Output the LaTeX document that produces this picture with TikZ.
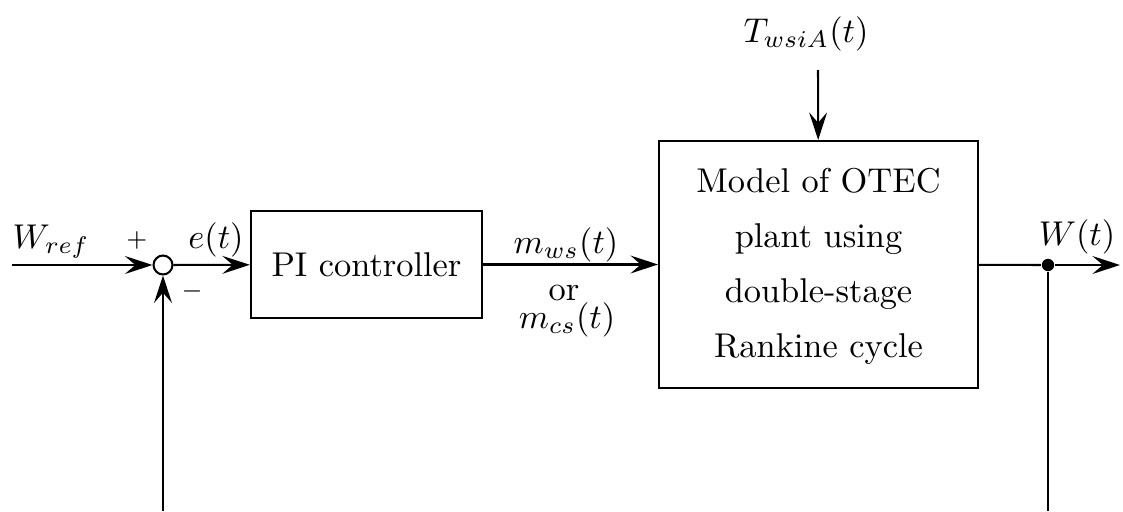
\documentclass[tikz,border=0pt]{standalone}
\usetikzlibrary{arrows.meta}
\begin{document}
\begin{tikzpicture}[x=0.2907pt,y=-0.2907pt,
  line width=0.6pt,
  arr/.style={-{Stealth[length=8pt,width=5.2pt,inset=3pt]}},
  blk/.style={draw,rectangle,inner sep=0pt},
  lbl/.style={anchor=base,inner sep=0pt},
  sgn/.style={inner sep=0pt,font=\scriptsize}]
\useasboundingbox (0,0) rectangle (1123,511);
% nodes
\node[draw,circle,inner sep=0pt,minimum size=5.5pt] (sum) at (163,265) {};
\node[blk,minimum width=67.2pt,minimum height=31.1pt] (pi) at (366.5,264.5) {PI controller};
\node[blk,minimum width=92.7pt,minimum height=71.8pt] (otec) at (818.5,264.5) {};
\node[align=center,inner sep=0pt] (otect) at (818.5,266) {Model of OTEC\\[4pt]plant using\\[4pt]double-stage\\[4pt]Rankine cycle};
\node[fill,circle,inner sep=0pt,minimum size=3.6pt] (dot) at (1048,265) {};
\coordinate (in) at (12,265);
\coordinate (out) at (1120,265);
\coordinate (top) at (818,70);
\coordinate (fbr) at (1048,511);
\coordinate (fbl) at (163,511);
% connectors
\draw[arr] (in) -- (sum);
\draw[arr] (sum) -- (pi);
\draw[arr] (pi) -- (otec);
\draw[arr] (top) -- (otec);
\draw (otec) -- (dot);
\draw[arr] (dot) -- (out);
\draw (dot) -- (fbr);
\draw[arr] (fbl) -- (sum);
% labels
\node[lbl] (wref) at (51,248) {$W_{ref}$};
\node[sgn] (plus) at (137,240) {$+$};
\node[sgn] (minus) at (192,291) {$-$};
\node[lbl] (et) at (216,248) {$e(t)$};
\node[lbl] (mws) at (566,253) {$m_{ws}(t)$};
\node[lbl] (or) at (564,300) {or};
\node[lbl] (mcs) at (567,328) {$m_{cs}(t)$};
\node[lbl] (wt) at (1077,245) {$W(t)$};
\node[lbl] (tw) at (806,42) {$T_{wsiA}(t)$};
\end{tikzpicture}
\end{document}
